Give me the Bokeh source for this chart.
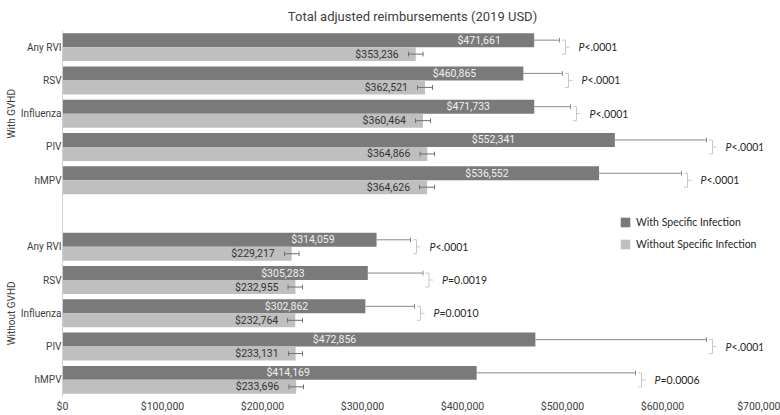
from bokeh.plotting import figure
from bokeh.models import (ColumnDataSource, FactorRange, Range1d, FixedTicker,
                          NumeralTickFormatter, Legend, LegendItem, PolyAnnotation)
from bokeh.transform import dodge
from bokeh.core.properties import value
from bokeh.embed import file_html
from bokeh.resources import INLINE

# ---------------- data ----------------
groups = ["With GVHD", "Without GVHD"]
infections = ["Any RVI", "RSV", "Influenza", "PIV", "hMPV"]

# With Specific Infection (mean, upper error)
with_infection = [471661, 460865, 471733, 552341, 536552,
                  314059, 305283, 302862, 472856, 414169]
with_infection_upper = [497000, 500000, 508000, 644000, 619000,
                        348000, 360500, 352000, 644000, 573000]

# Without Specific Infection (mean, lower/upper error)
without_infection = [353236, 362521, 360464, 364866, 364626,
                     229217, 232955, 232764, 233131, 233696]
without_infection_lower = [346000, 355000, 353000, 357500, 357000,
                           222000, 225500, 225000, 226000, 226500]
without_infection_upper = [360500, 370000, 368000, 372000, 372000,
                           236500, 240000, 240000, 240000, 241000]

p_value_text = ["<.0001", "<.0001", "<.0001", "<.0001", "<.0001",
                "<.0001", "=0.0019", "=0.0010", "<.0001", "=0.0006"]

x_ticks = [0, 100000, 200000, 300000, 400000, 500000, 600000, 700000]

title_text = "Total adjusted reimbursements (2019 USD)"
series_names = ["With Specific Infection", "Without Specific Infection"]

# ---------------- styles ----------------
DARK = "#7a7a7a"
LIGHT = "#bfbfbf"
TXT = "#404040"
AXFONT = "Roboto"
SANS = value("Lato")
RULE = "#cfcfcf"

W, H = 780, 415
LEFT, RIGHT, TOP, BOTTOM = 62, 18, 28, 15
X_MAX = x_ticks[-1]
px = X_MAX / (W - LEFT - RIGHT - 3)  # data units per pixel (approx.)

rows = [(g, i) for g in groups for i in infections]

dark_err = [u - v for u, v in zip(with_infection_upper, with_infection)]
src = ColumnDataSource(dict(
    y=rows,
    dark=with_infection,
    dark_up=with_infection_upper,
    dark_lbl_x=[v - e for v, e in zip(with_infection, dark_err)],
    dark_lbl=["${:,}".format(v) for v in with_infection],
    light=without_infection,
    light_lo=without_infection_lower,
    light_up=without_infection_upper,
    light_lbl=["${:,}".format(v) for v in without_infection],
    br_x=[u + 6 * px for u in with_infection_upper],
    br_l=[u + 2.5 * px for u in with_infection_upper],
    br_r=[u + 10 * px for u in with_infection_upper],
    ptxt=p_value_text,
))

y_range = FactorRange(factors=list(reversed(rows)), group_padding=1.0, range_padding=0)

p = figure(width=W, height=H, x_range=Range1d(0, X_MAX), y_range=y_range,
           output_backend="svg", toolbar_location=None,
           min_border_left=LEFT, min_border_right=RIGHT,
           min_border_top=TOP, min_border_bottom=BOTTOM,
           outline_line_color=None, background_fill_color="white",
           border_fill_color="white")

p.title.text = title_text
p.title.align = "center"
p.title.offset = -5
p.title.standoff = 13
p.title.text_line_height = 1.0
p.title.text_font = "Roboto"
p.title.text_font_size = "13px"
p.title.text_font_style = "normal"
p.title.text_color = TXT

OFF = 0.21
BH = 0.42
CAP = 0.07

r_dark = p.hbar(y=dodge("y", OFF, range=y_range), right="dark", left=0, height=BH,
                fill_color=DARK, line_color=None, source=src)
r_light = p.hbar(y=dodge("y", -OFF, range=y_range), right="light", left=0, height=BH,
                 fill_color=LIGHT, line_color=None, source=src)

ERR = "#8a8a8a"
# dark error bars (upper whisker visible beyond the bar)
p.segment(x0="dark", x1="dark_up", y0=dodge("y", OFF, range=y_range),
          y1=dodge("y", OFF, range=y_range), line_color=ERR, line_width=1, source=src)
p.segment(x0="dark_up", x1="dark_up", y0=dodge("y", OFF + CAP, range=y_range),
          y1=dodge("y", OFF - CAP, range=y_range), line_color=ERR, line_width=1, source=src)
# light error bars
p.segment(x0="light_lo", x1="light_up", y0=dodge("y", -OFF, range=y_range),
          y1=dodge("y", -OFF, range=y_range), line_color="#6f6f6f", line_width=1, source=src)
for col in ["light_lo", "light_up"]:
    p.segment(x0=col, x1=col, y0=dodge("y", -OFF + CAP, range=y_range),
              y1=dodge("y", -OFF - CAP, range=y_range), line_color="#6f6f6f",
              line_width=1, source=src)

# brackets
BR = "#c8c8c8"
p.segment(x0="br_x", x1="br_x", y0=dodge("y", 0.21, range=y_range),
          y1=dodge("y", -0.21, range=y_range), line_color=BR, line_width=1, source=src)
p.segment(x0="br_l", x1="br_x", y0=dodge("y", 0.21, range=y_range),
          y1=dodge("y", 0.21, range=y_range), line_color=BR, line_width=1, source=src)
p.segment(x0="br_l", x1="br_x", y0=dodge("y", -0.21, range=y_range),
          y1=dodge("y", -0.21, range=y_range), line_color=BR, line_width=1, source=src)
p.segment(x0="br_x", x1="br_r", y0="y", y1="y", line_color=BR, line_width=1, source=src)

# p-values
p.text(x="br_x", y="y", text=value("P"), x_offset=13, text_baseline="middle",
       text_font=SANS, text_font_style="italic", text_font_size="10.5px",
       text_color="#262626", source=src)
p.text(x="br_x", y="y", text="ptxt", x_offset=19, text_baseline="middle",
       text_font=SANS, text_font_size="10.5px", text_color="#262626", source=src)

# bar labels
p.text(x="dark_lbl_x", y=dodge("y", OFF, range=y_range), text="dark_lbl", x_offset=-8,
       text_align="right", text_baseline="middle", text_font=value(AXFONT),
       text_font_size="10.5px", text_color="#f0f0f0", source=src)
p.text(x="light", y=dodge("y", -OFF, range=y_range), text="light_lbl", x_offset=-17,
       text_align="right", text_baseline="middle", text_font=value(AXFONT),
       text_font_size="10.5px", text_color="#333333", source=src)

# divider lines in the category axis area
n_per = len(infections)
for yy in [0, n_per, n_per + 1, 2 * n_per + 1]:
    p.add_layout(PolyAnnotation(xs=[-LEFT * px, 0, 0, -LEFT * px], ys=[yy, yy, yy, yy],
                                line_color=RULE, line_width=1, fill_color=None))

# axes
xa = p.xaxis[0]
xa.ticker = FixedTicker(ticks=x_ticks)
xa.formatter = NumeralTickFormatter(format="$0,0")
xa.axis_line_color = None
xa.major_tick_line_color = None
xa.major_tick_out = 0
xa.major_tick_in = 0
xa.minor_tick_line_color = None
xa.minor_tick_out = 0
xa.axis_label = None
xa.axis_label_standoff = 0
xa.major_label_standoff = 3
xa.major_label_text_font = AXFONT
xa.major_label_text_font_size = "10.5px"
xa.major_label_text_color = TXT

ya = p.yaxis[0]
ya.axis_line_color = RULE
ya.major_tick_line_color = None
ya.major_tick_out = 0
ya.major_tick_in = 0
ya.minor_tick_line_color = None
ya.axis_label = None
ya.major_label_standoff = 1
ya.major_label_text_font = AXFONT
ya.major_label_text_font_size = "10px"
ya.major_label_text_color = TXT
ya.group_text_font = AXFONT
ya.group_text_font_size = "10px"
ya.group_text_font_style = "normal"
ya.group_text_color = TXT
ya.separator_line_color = None

p.xgrid.grid_line_color = None
p.ygrid.grid_line_color = None

# legend
legend = Legend(items=[LegendItem(label=series_names[0], renderers=[r_dark]),
                       LegendItem(label=series_names[1], renderers=[r_light])],
                location=(557, 146), orientation="vertical",
                glyph_width=12, glyph_height=12, label_height=12, spacing=10,
                label_standoff=5, padding=0, margin=0,
                border_line_color=None, background_fill_alpha=0,
                label_text_font="Lato", label_text_font_size="10.5px",
                label_text_color="#262626")
p.add_layout(legend, "center")

open("out.html", "w").write(file_html(p, INLINE))
